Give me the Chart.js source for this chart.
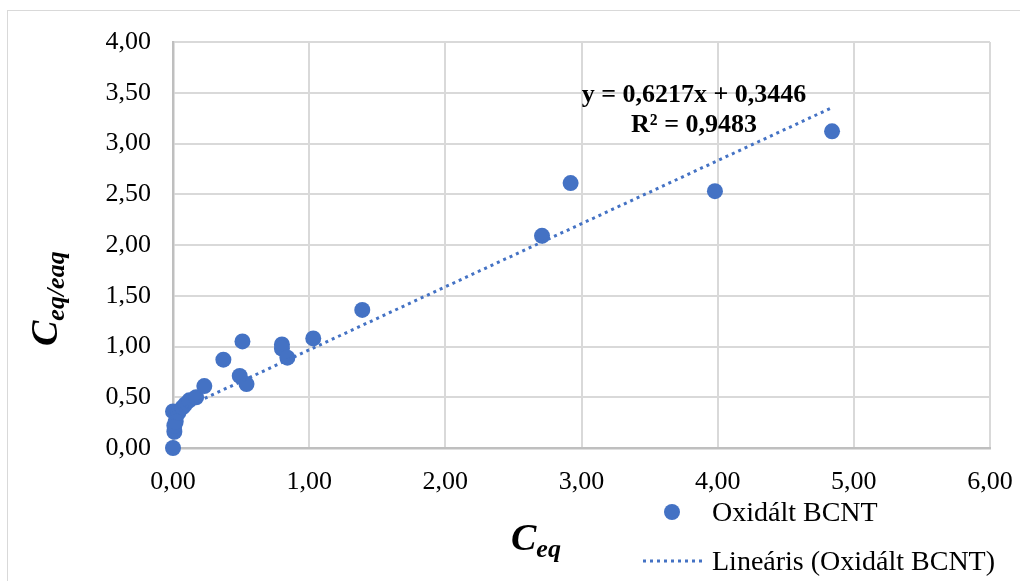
<!DOCTYPE html>
<html>
<head>
<meta charset="utf-8">
<script src="https://cdn.jsdelivr.net/npm/chart.js@4"></script>
<style>
  html, body { margin: 0; padding: 0; background: #fff; }
  canvas { display: block; }
</style>
</head>
<body>
<canvas id="chart" width="1020" height="581"></canvas>
<script>
// Ceq vs Ceq/qeq
const ceq = [0.00, 0.01, 0.01, 0.02, 0.00, 0.04, 0.07, 0.09, 0.12, 0.17, 0.23,
  0.37, 0.49, 0.54, 0.51, 0.80, 0.80, 0.84, 1.03, 1.39, 2.71, 2.92, 3.98, 4.84];
const ceqPerQeq = [0.00, 0.16, 0.22, 0.26, 0.36, 0.35, 0.40, 0.43, 0.47, 0.50, 0.61,
  0.87, 0.71, 0.63, 1.05, 1.02, 0.98, 0.89, 1.08, 1.36, 2.09, 2.61, 2.53, 3.12];

// trendline as printed on the chart
const trendSlope = 0.6217;
const trendIntercept = 0.3446;
const trendRange = [0, 4.84];
const equationLines = ["y = 0,6217x + 0,3446", "R\u00b2 = 0,9483"];

const seriesName = "Oxid\u00e1lt BCNT";
const trendName = "Line\u00e1ris (Oxid\u00e1lt BCNT)";

const xTicks = [0, 1, 2, 3, 4, 5, 6];
const yTicks = [0, 0.5, 1, 1.5, 2, 2.5, 3, 3.5, 4];

const BLUE = "#4472C4";
const SERIF = '"Liberation Serif", "Times New Roman", serif';
const fmt = (v) => v.toFixed(2).replace(".", ",");

function drawSub(ctx, main, sub, x, y) {
  ctx.font = "italic bold 38px " + SERIF;
  ctx.fillText(main, x, y);
  const w = ctx.measureText(main).width;
  ctx.font = "italic bold 26px " + SERIF;
  ctx.fillText(sub, x + w, y + 7);
}

const extras = {
  id: "extras",
  beforeDraw(chart) {
    const ctx = chart.ctx;
    ctx.save();
    ctx.strokeStyle = "#d9d9d9";
    ctx.lineWidth = 1;
    ctx.strokeRect(7.5, 10.5, 1100, 1000);
    ctx.restore();
  },
  afterDraw(chart) {
    const ctx = chart.ctx;
    ctx.save();
    ctx.fillStyle = "#000";
    ctx.textBaseline = "alphabetic";

    // equation label
    ctx.font = "bold 26px " + SERIF;
    ctx.textAlign = "center";
    ctx.fillText(equationLines[0], 694, 102);
    ctx.fillText(equationLines[1], 694, 132);

    // axis titles
    ctx.textAlign = "left";
    drawSub(ctx, "C", "eq", 511, 550);
    ctx.save();
    ctx.translate(57, 346);
    ctx.rotate(-Math.PI / 2);
    drawSub(ctx, "C", "eq/eaq", 0, 0);
    ctx.restore();

    // legend
    ctx.fillStyle = BLUE;
    ctx.beginPath();
    ctx.arc(672, 512, 8, 0, Math.PI * 2);
    ctx.fill();
    ctx.strokeStyle = BLUE;
    ctx.lineWidth = 3;
    ctx.setLineDash([3, 4]);
    ctx.beginPath();
    ctx.moveTo(643, 561);
    ctx.lineTo(704, 561);
    ctx.stroke();
    ctx.setLineDash([]);
    ctx.fillStyle = "#000";
    ctx.font = "28px " + SERIF;
    ctx.fillText(seriesName, 712, 521);
    ctx.fillText(trendName, 712, 570);
    ctx.restore();
  }
};

new Chart(document.getElementById("chart"), {
  type: "scatter",
  data: {
    datasets: [
      {
        label: trendName,
        data: trendRange.map((x) => ({ x, y: trendSlope * x + trendIntercept })),
        showLine: true,
        borderColor: BLUE,
        borderWidth: 3,
        borderDash: [3, 4],
        pointRadius: 0,
        order: 0,
        clip: false,
      },
      {
        label: seriesName,
        data: ceq.map((x, i) => ({ x, y: ceqPerQeq[i] })),
        backgroundColor: BLUE,
        borderColor: BLUE,
        pointRadius: 8,
        pointBorderWidth: 0,
        order: 1,
        clip: false,
      },
    ],
  },
  options: {
    responsive: false,
    animation: false,
    layout: { padding: { top: 42, right: 30, bottom: 0, left: 0 } },
    plugins: { legend: { display: false }, tooltip: { enabled: false } },
    scales: {
      x: {
        type: "linear",
        min: 0,
        max: 6,
        afterBuildTicks: (s) => { s.ticks = xTicks.map((v) => ({ value: v })); },
        afterFit: (s) => { s.height = 133; s.paddingLeft = 0; s.paddingRight = 0; },
        grid: { color: "#d9d9d9", lineWidth: 2, drawTicks: false },
        border: { color: "#bfbfbf", width: 2.5 },
        ticks: {
          padding: 19,
          color: "#000",
          font: { family: SERIF, size: 26 },
          callback: (v) => fmt(v),
        },
      },
      y: {
        type: "linear",
        min: 0,
        max: 4,
        afterBuildTicks: (s) => { s.ticks = yTicks.map((v) => ({ value: v })); },
        afterFit: (s) => { s.width = 173; s.paddingTop = 0; s.paddingBottom = 0; },
        grid: { color: "#d9d9d9", lineWidth: 2, drawTicks: false },
        border: { color: "#bfbfbf", width: 2.5 },
        ticks: {
          padding: 22,
          color: "#000",
          font: { family: SERIF, size: 26 },
          callback: (v) => fmt(v),
        },
      },
    },
  },
  plugins: [extras],
});
</script>
</body>
</html>
